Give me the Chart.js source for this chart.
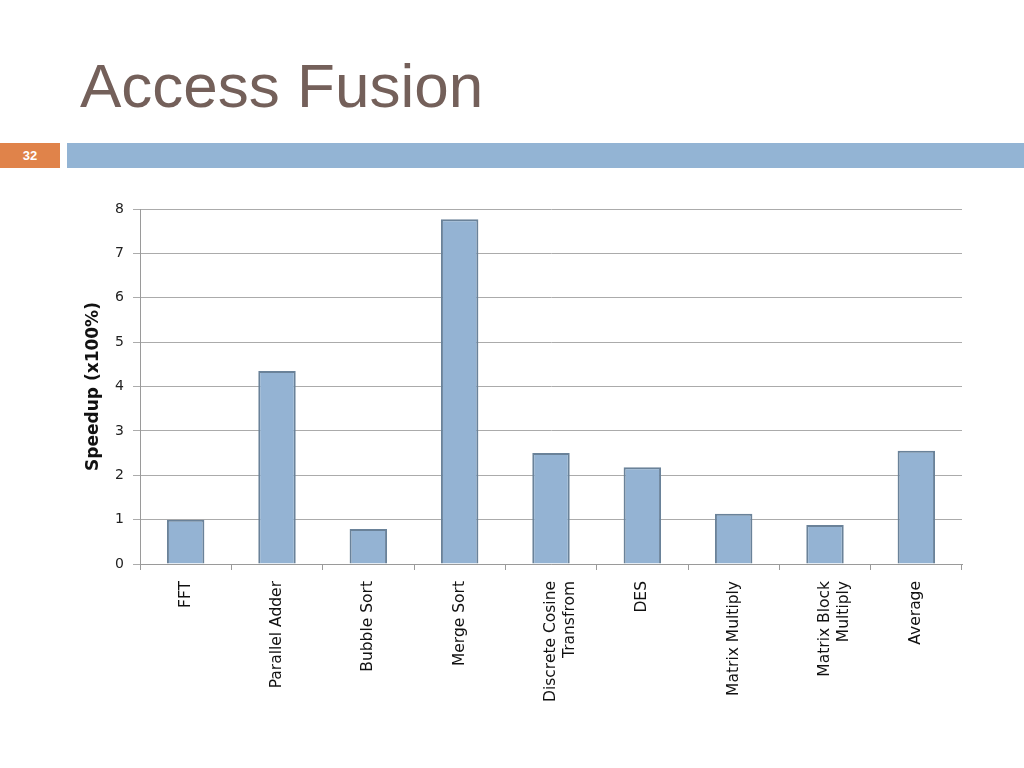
<!DOCTYPE html>
<html>
<head>
<meta charset="utf-8">
<script src="https://cdn.jsdelivr.net/npm/chart.js@4"></script>
<style>
  body { margin: 0; width: 1024px; height: 768px; background: #fff; position: relative; overflow: hidden; }
  #title { position: absolute; left: 80px; top: 55px; font-family: "Liberation Sans", Arial, sans-serif; font-size: 62px; line-height: 62px; color: #74605a; }
  #num { position: absolute; left: 0; top: 143px; width: 60px; height: 25px; background: #e0834a; color: #fff; font: bold 13px "Liberation Sans", Arial, sans-serif; text-align: center; line-height: 25px; }
  #band { position: absolute; left: 67px; top: 143px; width: 957px; height: 25px; background: #93b4d4; }
  #wrap { position: absolute; left: 0; top: 190px; width: 1024px; height: 578px; }
</style>
</head>
<body>
<div id="title">Access Fusion</div>
<div id="num">32</div>
<div id="band"></div>
<div id="wrap"><canvas id="chart"></canvas></div>
<script>
const benchmarks = ['FFT', 'Parallel Adder', 'Bubble Sort', 'Merge Sort', ['Discrete Cosine', 'Transfrom'], 'DES', 'Matrix Multiply', ['Matrix Block', 'Multiply'], 'Average'];
const speedup = [1.0, 4.35, 0.79, 7.77, 2.5, 2.18, 1.13, 0.88, 2.55];
const yTicks = [0, 1, 2, 3, 4, 5, 6, 7, 8];

const ctx = document.getElementById('chart').getContext('2d');

new Chart(ctx, {
    type: 'bar',
    data: {
        labels: benchmarks,
        datasets: [{
            label: 'Speedup',
            data: speedup,
            backgroundColor: '#94b3d3',
            borderColor: '#6a8299',
            borderWidth: 2,
            borderSkipped: 'bottom',
            barPercentage: 0.41,
            categoryPercentage: 1
        }]
    },
    options: {
        responsive: true,
        maintainAspectRatio: false,
        animation: false,
        layout: { padding: { left: 83, right: 62, top: 19, bottom: 14 } },
        plugins: {
            legend: { display: false },
            tooltip: { enabled: false }
        },
        scales: {
            x: {
                afterFit: function(scale) { scale.height = 190; },
                grid: {
                    offset: true,
                    drawOnChartArea: false,
                    drawTicks: true,
                    tickLength: 6,
                    color: '#9a9a9a'
                },
                border: { color: '#9a9a9a', width: 1 },
                ticks: {
                    maxRotation: 90,
                    minRotation: 90,
                    autoSkip: false,
                    padding: 11,
                    color: '#111',
                    font: { family: '"DejaVu Sans", sans-serif', size: 15.5 }
                }
            },
            y: {
                min: 0,
                max: 8,
                afterFit: function(scale) { scale.width = 57; },
                afterBuildTicks: function(scale) { scale.ticks = yTicks.map(v => ({ value: v })); },
                grid: {
                    color: '#ababab',
                    drawTicks: true,
                    tickLength: 7
                },
                border: { color: '#9a9a9a', width: 1 },
                title: {
                    display: true,
                    text: 'Speedup (x100%)',
                    color: '#111',
                    padding: { top: 0, bottom: 4 },
                    font: { family: '"DejaVu Sans", sans-serif', size: 17, weight: 'bold' }
                },
                ticks: {
                    padding: 9,
                    color: '#222',
                    font: { family: '"DejaVu Sans", sans-serif', size: 14 }
                }
            }
        }
    }
});
</script>
</body>
</html>
